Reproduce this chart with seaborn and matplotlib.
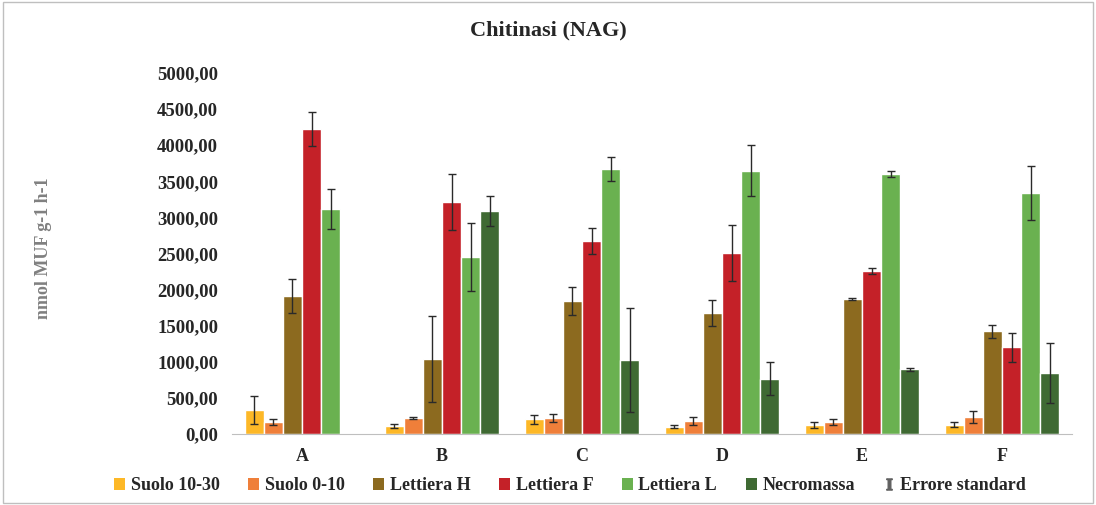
import pandas as pd
import numpy as np
import matplotlib
matplotlib.use("Agg")
import matplotlib.pyplot as plt
from matplotlib.lines import Line2D
from matplotlib.patches import Patch, Rectangle
import seaborn as sns

# dati
siti = ["A", "B", "C", "D", "E", "F"]
serie = ["Suolo 10-30", "Suolo 0-10", "Lettiera H", "Lettiera F", "Lettiera L", "Necromassa"]
suolo_10_30 = [332, 111, 203, 100, 120, 130]
suolo_0_10 = [166, 220, 220, 180, 165, 235]
lettiera_h = [1911, 1040, 1840, 1675, 1870, 1420]
lettiera_f = [4224, 3213, 2670, 2510, 2260, 1200]
lettiera_l = [3116, 2450, 3670, 3645, 3600, 3340]
necromassa = [0, 3090, 1030, 765, 895, 845]
err_10_30 = [195, 30, 65, 20, 40, 35]
err_0_10 = [45, 15, 55, 60, 40, 85]
err_h = [240, 600, 190, 175, 20, 90]
err_f = [235, 390, 180, 390, 40, 200]
err_l = [280, 470, 160, 355, 40, 370]
err_necro = [0, 210, 720, 230, 20, 410]

colori = ["#FDB827", "#EF7F3A", "#8C6A1F", "#C42128", "#6AB150", "#3F6A33"]

valori = [suolo_10_30, suolo_0_10, lettiera_h, lettiera_f, lettiera_l, necromassa]
errori = [err_10_30, err_0_10, err_h, err_f, err_l, err_necro]

righe = []
for s, v, e in zip(serie, valori, errori):
    for sito, val, er in zip(siti, v, e):
        righe.append({"Sito": sito, "Serie": s, "Valore": val, "Errore": er})
df = pd.DataFrame(righe)

sns.set_style("white")
plt.rcParams["font.family"] = ["Liberation Serif", "DejaVu Serif"]
plt.rcParams["font.weight"] = "bold"
plt.rcParams["mathtext.fontset"] = "custom"
plt.rcParams["mathtext.rm"] = "Liberation Serif"

fig = plt.figure(figsize=(10.96, 5.05), dpi=100)
ax = fig.add_axes([232 / 1096, 1 - 434 / 505, 840 / 1096, 361 / 505])

sns.barplot(data=df, x="Sito", y="Valore", hue="Serie", hue_order=serie,
            order=siti, palette=colori, width=0.82, errorbar=None,
            saturation=1, ax=ax, legend=False)

# barre di errore sopra ogni barra
for cont, s in zip(ax.containers, serie):
    sub = df[df["Serie"] == s].set_index("Sito").loc[siti]
    xs = [p.get_x() + p.get_width() / 2 for p in cont.patches]
    hs = [p.get_height() for p in cont.patches]
    e = sub["Errore"].values
    mask = np.array(hs) > 0
    ax.errorbar(np.array(xs)[mask], np.array(hs)[mask], yerr=e[mask], fmt="none",
                ecolor="#2a2a2a", elinewidth=1, capsize=3, capthick=1)

ax.set_ylim(0, 5000)
ax.set_xlim(-0.5, 5.5)
ax.set_yticks(np.arange(0, 5001, 500))
ax.set_yticklabels([f"{v:.2f}".replace(".", ",") for v in np.arange(0, 5001, 500)],
                   fontsize=13.5, fontweight="bold")
ax.set_xticklabels(siti, fontsize=13, fontweight="bold")
ax.tick_params(axis="both", length=0, pad=10)
ax.set_xticks(np.arange(-0.5, 6, 1), minor=True)
ax.tick_params(axis="x", which="minor", length=6, color="#BFBFBF", width=1)
ax.set_xlabel("")
ax.set_ylabel("")
for sp in ["top", "right", "left"]:
    ax.spines[sp].set_visible(False)
ax.spines["bottom"].set_color("#BFBFBF")

fig.text(43 / 1096, 1 - 248 / 505, "nmol MUF g-1 h-1", rotation=90, ha="center",
         va="center", fontsize=13, fontweight="bold", color="#808080")
fig.text(548 / 1096, 1 - 30 / 505, "Chitinasi (NAG)", ha="center", va="center",
         fontsize=16, fontweight="bold")

handles = [Patch(facecolor=c, edgecolor="none") for c in colori]
handles.append(Line2D([], [], marker=r"$\mathrm{I}$", color="#606060",
                      linestyle="None", markersize=8))
fig.legend(handles, serie + ["Errore standard"], loc="center",
           bbox_to_anchor=(570 / 1096, 1 - 486 / 505), ncol=7, frameon=False,
           handlelength=0.6, handleheight=0.6, handletextpad=0.3, columnspacing=1.6,
           prop={"size": 13, "weight": "bold"})

fig.patches.append(Rectangle((0.003, 0.003), 0.994, 0.994, transform=fig.transFigure,
                             fill=False, edgecolor="#BFBFBF", linewidth=1))

fig.savefig("out.png", dpi=100)
